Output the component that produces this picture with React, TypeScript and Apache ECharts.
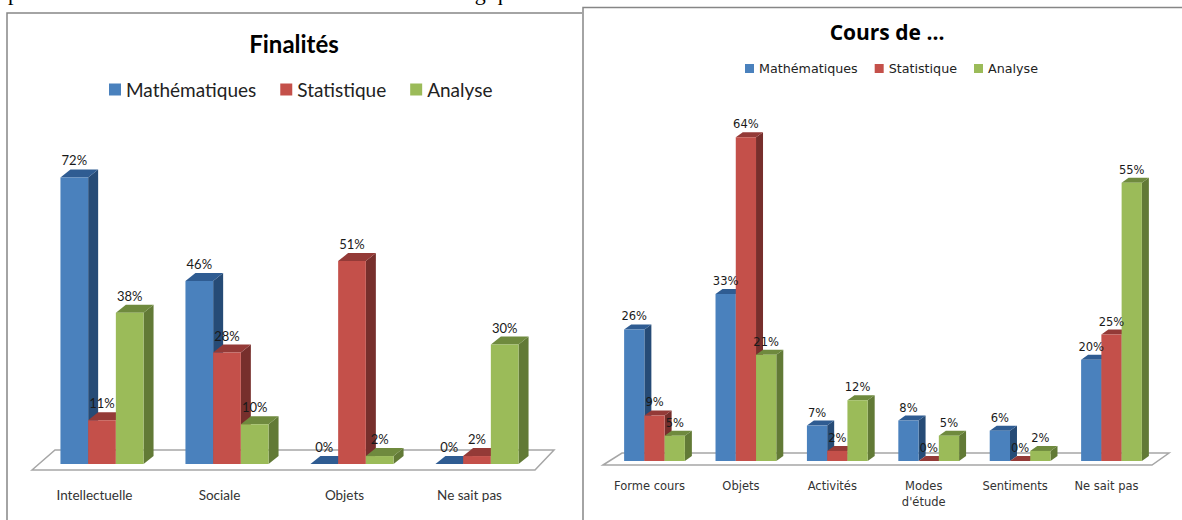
import React, { useEffect, useRef } from "react";
import * as echarts from "echarts";

const seriesNames = ["Mathématiques", "Statistique", "Analyse"];
const faceColors = ["#4a81bd", "#c4504a", "#9bbb59"];
const sideColors = ["#264b76", "#772f2c", "#627a36"];
const topColors = ["#2f5c92", "#943a37", "#6f8a3e"];

const finalitesCategories = ["Intellectuelle", "Sociale", "Objets", "Ne sait pas"];
const finalitesMath = [72, 46, 0, 0];
const finalitesStat = [11, 28, 51, 2];
const finalitesAnalyse = [38, 10, 2, 30];

const coursCategories = ["Forme cours", "Objets", "Activités", "Modes\nd'étude", "Sentiments", "Ne sait pas"];
const coursMath = [26, 33, 7, 8, 6, 20];
const coursStat = [9, 64, 2, 0, 0, 25];
const coursAnalyse = [5, 21, 12, 5, 2, 55];

const LEFT_FONT = "Lato";
const RIGHT_FONT = "DejaVu Sans";
const TEXT_COLOR = "#1a1a1a";
const CAPTION = "premières sont du domaine et de la nature méthodologique.";

function bars3d(
  gridIndex: number,
  name: string,
  s: number,
  values: number[],
  dx: number,
  dy: number,
  labelGap: number,
  font: string,
) {
  return {
    type: "custom",
    name,
    xAxisIndex: gridIndex,
    yAxisIndex: gridIndex,
    itemStyle: { color: faceColors[s] },
    encode: { x: 0, y: 1 },
    data: values.map((v, i) => [i, v]),
    renderItem: (_p: any, api: any) => {
      const cat = api.value(0);
      const val = api.value(1);
      const top = api.coord([cat, val]);
      const base = api.coord([cat, 0]);
      const w = api.size([1, 0])[0] * 0.2216;
      const x0 = top[0] + (s - 1.5) * w;
      const x1 = x0 + w;
      const yT = top[1];
      const yB = base[1];
      return {
        type: "group",
        children: [
          {
            type: "polygon",
            shape: { points: [[x1, yT], [x1 + dx, yT - dy], [x1 + dx, yB - dy], [x1, yB]] },
            style: { fill: sideColors[s] },
          },
          {
            type: "polygon",
            shape: { points: [[x0, yT], [x1, yT], [x1 + dx, yT - dy], [x0 + dx, yT - dy]] },
            style: { fill: topColors[s] },
          },
          {
            type: "rect",
            shape: { x: x0, y: yT, width: w, height: yB - yT },
            style: { fill: faceColors[s] },
          },
          {
            type: "text",
            z2: 100,
            x: x0 + w / 2,
            y: yT - labelGap,
            style: {
              text: `${val}%`,
              fill: TEXT_COLOR,
              font,
              align: "center",
              verticalAlign: "middle",
            },
          },
        ],
      };
    },
  };
}

export default function App() {
  const ref = useRef<HTMLDivElement>(null);
  useEffect(() => {
    const chart = echarts.init(ref.current!, undefined, { renderer: "svg" });
    const leftLabel = `13px ${LEFT_FONT}`;
    const rightLabel = `11.5px '${RIGHT_FONT}'`;
    chart.setOption({
      animation: false,
      backgroundColor: "#ffffff",
      title: [
        {
          text: "Finalités",
          left: 289,
          top: 26,
          textAlign: "center",
          textStyle: { fontFamily: LEFT_FONT, fontWeight: "bold", fontSize: 24, color: "#000" },
        },
        {
          text: "Cours de ...",
          left: 882,
          top: 16,
          textAlign: "center",
          textStyle: { fontFamily: "Open Sans", fontWeight: "bold", fontSize: 21, color: "#000" },
        },
      ],
      legend: [
        {
          left: 109,
          top: 80,
          padding: 0,
          icon: "rect",
          itemWidth: 12,
          itemHeight: 12,
          itemGap: 24,
          selectedMode: false,
          data: seriesNames,
          textStyle: { fontFamily: LEFT_FONT, fontSize: 19, color: "#222" },
        },
        {
          left: 745,
          top: 62,
          padding: 0,
          icon: "rect",
          itemWidth: 9,
          itemHeight: 9,
          itemGap: 17,
          selectedMode: false,
          data: seriesNames,
          textStyle: { fontFamily: RIGHT_FONT, fontSize: 12.7, color: "#222" },
        },
      ],
      grid: [
        { left: 39.5, width: 500, top: 145.6, height: 318.4 },
        { left: 608.8, width: 548.4, top: 106.8, height: 354.2 },
      ],
      xAxis: [
        {
          gridIndex: 0,
          type: "category",
          data: finalitesCategories,
          axisLine: { show: false },
          axisTick: { show: false },
          axisLabel: { margin: 24, interval: 0, padding: [0, 15, 0, 0], fontFamily: LEFT_FONT, fontSize: 13.5, color: "#333" },
        },
        {
          gridIndex: 1,
          type: "category",
          data: coursCategories,
          axisLine: { show: false },
          axisTick: { show: false },
          axisLabel: { margin: 17, interval: 0, padding: [0, 10, 0, 0], lineHeight: 16, fontFamily: RIGHT_FONT, fontSize: 11.5, color: "#333" },
        },
      ],
      yAxis: [
        { gridIndex: 0, type: "value", min: 0, max: 80, show: false },
        { gridIndex: 1, type: "value", min: 0, max: 70, show: false },
      ],
      graphic: [
        {
          type: "text",
          x: 8,
          y: -19,
          style: { text: CAPTION, font: "22px 'Liberation Serif'", fill: "#000" },
        },
        {
          type: "polyline",
          shape: { points: [[7, 520], [7, 13], [582, 13]] },
          style: { stroke: "#868686", lineWidth: 1.5, fill: "none" },
        },
        {
          type: "polyline",
          shape: { points: [[583, 520], [583, 7.5], [1182, 7.5]] },
          style: { stroke: "#868686", lineWidth: 1.5, fill: "none" },
        },
        {
          type: "polygon",
          shape: { points: [[32, 470], [55, 450], [554, 450], [535, 470]] },
          style: { stroke: "#a6a6a6", lineWidth: 1.5, fill: "#fff" },
        },
        {
          type: "polygon",
          shape: { points: [[603, 465], [622, 453], [1169, 453], [1152, 465]] },
          style: { stroke: "#a6a6a6", lineWidth: 1.5, fill: "#fff" },
        },
      ],
      series: [
        bars3d(0, seriesNames[0], 0, finalitesMath, 10, 8, 17, leftLabel),
        bars3d(0, seriesNames[1], 1, finalitesStat, 10, 8, 17, leftLabel),
        bars3d(0, seriesNames[2], 2, finalitesAnalyse, 10, 8, 17, leftLabel),
        bars3d(1, seriesNames[0], 0, coursMath, 7, 5, 13, rightLabel),
        bars3d(1, seriesNames[1], 1, coursStat, 7, 5, 13, rightLabel),
        bars3d(1, seriesNames[2], 2, coursAnalyse, 7, 5, 13, rightLabel),
      ],
    });
    return () => chart.dispose();
  }, []);
  return (
    <div
      ref={ref}
      style={{ position: "absolute", left: 0, top: 0, width: 1182, height: 520 }}
    />
  );
}
